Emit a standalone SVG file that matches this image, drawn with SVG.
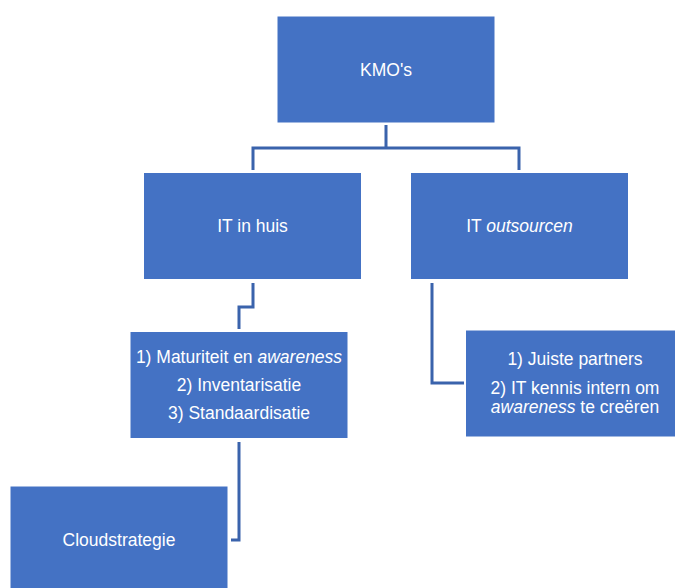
<svg xmlns="http://www.w3.org/2000/svg" width="675" height="588" viewBox="0 0 675 588">
<style>
.box{fill:#4472C4;stroke:#ffffff;stroke-width:1}
.lbl{fill:#ffffff;font-family:"Liberation Sans",Arial,sans-serif;font-size:17.5px;text-anchor:middle}
.it{font-style:italic}
.conn{fill:none;stroke:#3A63AC;stroke-width:3}
</style>
<rect width="675" height="588" fill="#ffffff"/>
<g id="connectors">
<path class="conn" d="M386,125 V148 M253,170 V148 H519 V170"/>
<path class="conn" d="M253,283 V307 H239 V329"/>
<path class="conn" d="M432,283 V383 H464"/>
<path class="conn" d="M239,442 V540 H231"/>
</g>
<g id="kmos">
<rect class="box" x="277" y="16" width="218" height="107"/>
<text class="lbl" x="386" y="76">KMO's</text>
</g>
<g id="it-in-huis">
<rect class="box" x="143.5" y="172.5" width="218" height="107"/>
<text class="lbl" x="252.5" y="232">IT in huis</text>
</g>
<g id="it-outsourcen">
<rect class="box" x="410.5" y="172.5" width="218" height="107"/>
<text class="lbl" x="519.5" y="232">IT <tspan class="it">outsourcen</tspan></text>
</g>
<g id="stappen">
<rect class="box" x="130" y="331.5" width="218" height="107"/>
<text class="lbl" x="239" y="363">1) Maturiteit en <tspan class="it">awareness</tspan></text>
<text class="lbl" x="239" y="391">2) Inventarisatie</text>
<text class="lbl" x="239" y="419">3) Standaardisatie</text>
</g>
<g id="outsourcen-stappen">
<rect class="box" x="465.5" y="330" width="220" height="107"/>
<text class="lbl" x="575" y="365">1) Juiste partners</text>
<text class="lbl" x="575" y="394">2) IT kennis intern om</text>
<text class="lbl" x="575" y="413"><tspan class="it">awareness</tspan> te creëren</text>
</g>
<g id="cloudstrategie">
<rect class="box" x="10" y="486" width="218" height="107"/>
<text class="lbl" x="119" y="546">Cloudstrategie</text>
</g>
</svg>
